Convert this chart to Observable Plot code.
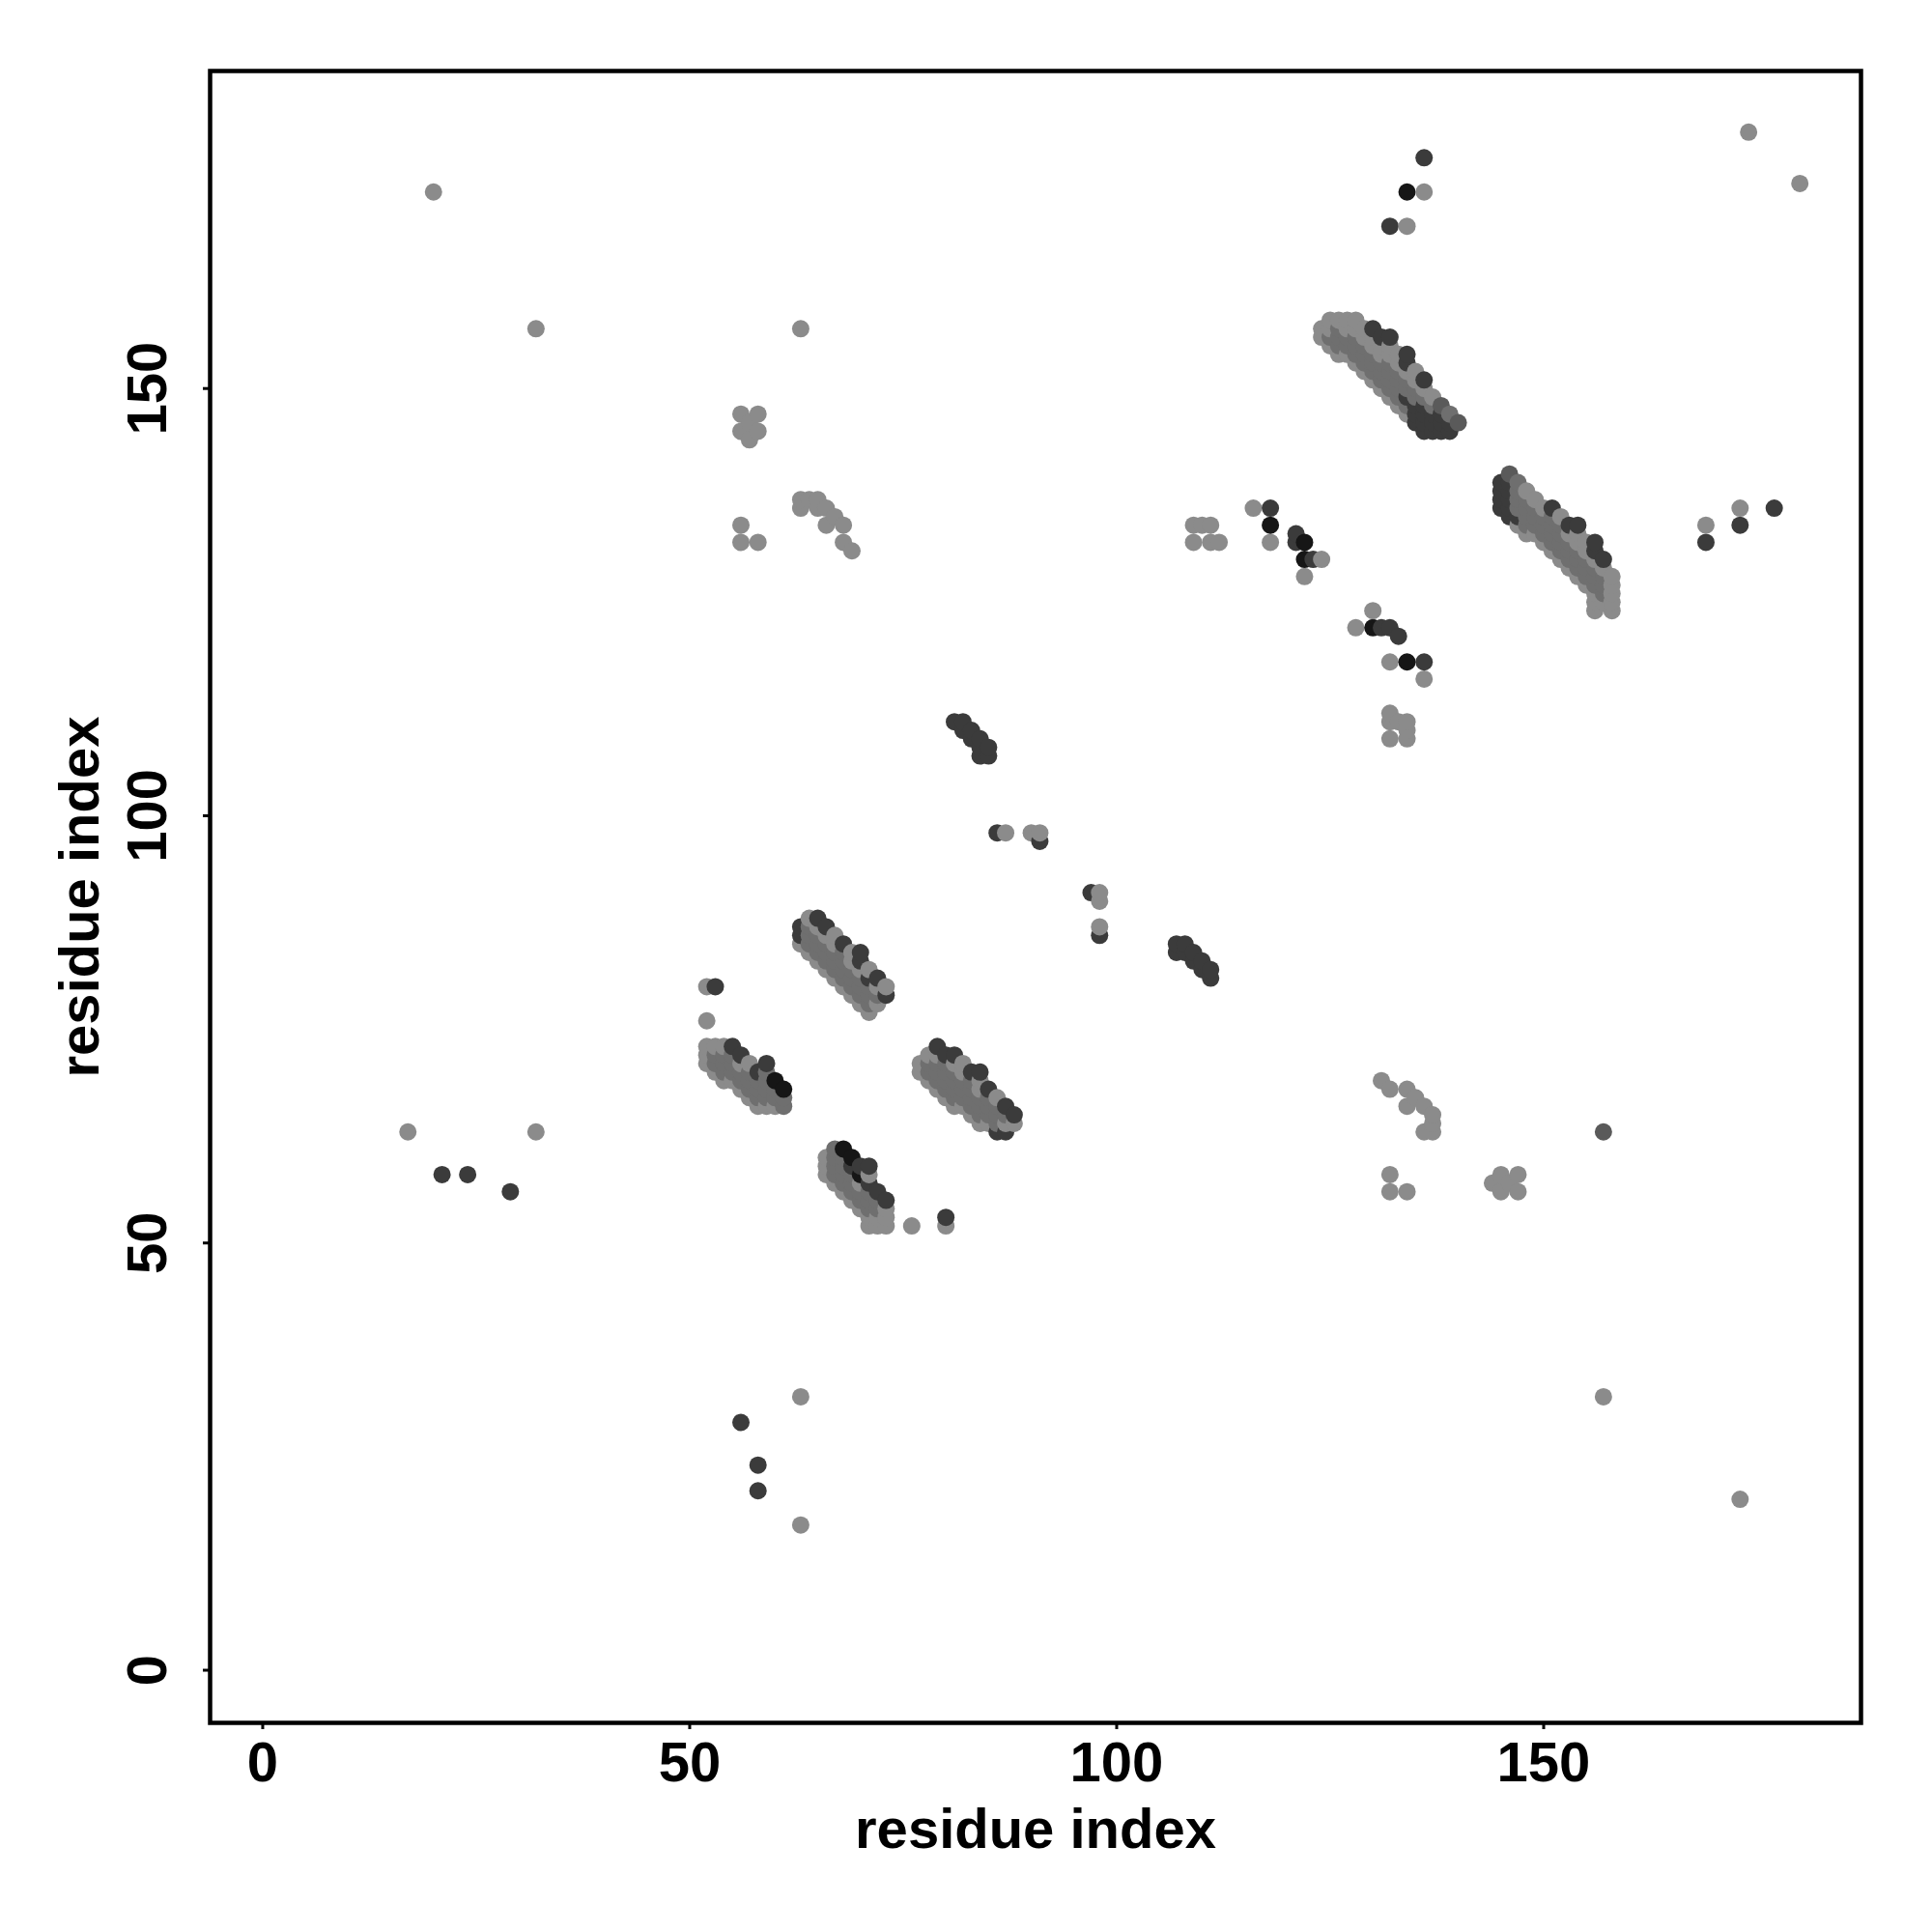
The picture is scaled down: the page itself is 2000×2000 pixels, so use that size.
<!DOCTYPE html>
<html><head><meta charset="utf-8">
<script src="https://cdn.jsdelivr.net/npm/d3@7"></script>
<script src="https://cdn.jsdelivr.net/npm/@observablehq/plot@0.6"></script>
<style>body{margin:0;background:#fff}</style>
</head><body><div id="chart"></div>
<script>
// residue index pairs [i, j] grouped by shade
const grayContacts = [
[20,173],[32,157],[63,157],[174,180],[180,174],[134,169],[136,173],[169,134],[173,136],[17,63],[32,63],[52,80],[52,76],[63,17],[63,32],[157,32],[173,20],[76,52],[80,52],[87,98],[90,98],[91,98],[98,91],[98,90],[98,87],
[56,147],[58,147],[57,146],[56,145],[58,145],[57,144],[56,134],[56,132],[58,132],[63,137],[64,137],[65,137],[63,136],[65,136],[66,136],[66,134],[67,135],[68,134],[68,132],[69,131],
[109,134],[110,134],[111,134],[109,132],[111,132],[112,132],[116,136],[118,132],[124,130],[122,128],
[128,122],[130,124],[132,118],[136,116],[132,112],[132,111],[133,111],[134,111],[134,110],[132,109],[134,109],
[131,69],[132,68],[134,68],[135,67],[134,66],[136,66],[137,65],[137,64],[136,63],[137,63],
[132,58],[132,56],[134,56],
[144,57],[145,58],[145,56],[146,57],[147,58],[147,56],
[63,85],[64,84],[64,88],[65,83],[65,87],[66,82],[66,86],[67,81],[67,85],[67,86],[68,80],[69,79],[69,83],[69,84],[70,78],[70,82],[71,77],[71,82],[72,78],[72,80],[73,80],
[52,71],[52,72],[52,73],[53,70],[53,73],[54,69],[54,73],[55,69],[56,68],[56,71],[57,67],[57,71],[58,66],[59,66],[60,66],
[77,70],[77,71],[78,69],[78,72],[79,68],[79,72],[80,67],[81,66],[81,71],[82,66],[82,70],[82,71],[83,65],[84,64],[84,68],[84,69],[85,64],[86,67],[87,64],[88,64],
[66,58],[66,59],[66,60],[67,57],[68,56],[69,55],[70,54],[70,57],[71,52],[71,53],[71,58],[72,52],[72,53],[73,52],[73,53],[73,54],
[124,156],[124,157],[125,155],[125,157],[125,158],[126,154],[126,158],[127,154],[127,157],[127,158],[128,153],[128,157],[128,158],[129,152],[129,156],[129,157],[130,151],[130,155],[130,156],[131,150],[131,154],[131,155],[132,149],[132,154],[132,155],[133,148],[133,153],[133,154],[134,147],[134,152],[135,151],[135,152],[136,150],[137,149],
[147,134],[148,133],[148,138],[149,133],[149,137],[150,132],[150,136],[151,131],[152,130],[152,135],[153,129],[153,133],[154,128],[154,132],[154,133],[155,127],[155,131],[155,132],[156,124],[156,125],[156,126],[156,130],[157,125],[157,129],[158,124],[158,125],[158,126],[158,127],[158,128]
];
const midContacts = [
[64,85],[64,86],[64,87],[65,84],[65,85],[65,86],[66,83],[66,84],[66,85],[67,82],[67,83],[67,84],[68,81],[68,82],[68,83],[68,84],[69,80],[69,81],[69,82],[70,79],[70,80],[70,81],[71,78],[71,79],[71,80],[72,79],
[53,71],[53,72],[54,70],[54,71],[54,72],[55,70],[55,71],[55,72],[56,69],[56,70],[57,68],[57,69],[57,70],[58,67],[58,68],[58,69],[59,67],[59,68],[59,69],[59,70],[60,67],[60,68],[61,66],[61,67],
[78,70],[78,71],[79,69],[79,70],[79,71],[80,68],[80,69],[80,70],[80,71],[81,67],[81,68],[81,69],[81,70],[82,67],[82,68],[82,69],[83,66],[83,67],[83,68],[83,69],[84,65],[84,66],[84,67],[85,65],[85,66],[85,67],[86,64],[86,65],[86,66],[87,65],
[67,58],[67,59],[67,60],[67,61],[68,57],[68,58],[68,59],[68,60],[69,56],[69,57],[69,58],[70,55],[70,56],[71,54],[71,55],[71,56],[72,54],[72,55],
[125,156],[126,155],[126,156],[126,157],[127,155],[127,156],[128,154],[128,155],[128,156],[129,153],[129,154],[129,155],[130,152],[130,153],[130,154],[131,151],[131,152],[131,153],[132,150],[132,151],[132,152],[132,153],[133,149],[133,150],[133,151],[133,152],[134,148],[134,150],[134,151],[135,149],[135,150],[136,149],[137,148],[139,147],
[147,136],[147,137],[147,138],[147,139],[148,134],[148,135],[148,136],[148,137],[149,134],[149,135],[149,136],[150,133],[150,134],[150,135],[151,132],[151,133],[151,134],[151,135],[152,131],[152,132],[152,133],[152,134],[153,130],[153,131],[153,132],[154,129],[154,130],[154,131],[155,128],[155,129],[155,130],[156,127],[156,128],[156,129],[157,126],[157,127],[157,128]
];
const midDarkContacts = [[146,140],[138,148],[140,146],[157,63]];
const darkContacts = [
[132,169],[136,177],[169,132],[173,134],[177,136],[21,58],[24,58],[29,56],[53,80],[56,29],[58,24],[58,21],[80,53],[86,98],[91,97],[97,91],[98,86],
[81,111],[82,111],[82,110],[83,110],[83,109],[84,109],[84,108],[85,108],[85,107],[84,107],
[107,85],[108,85],[107,84],[108,84],[109,84],[109,83],[110,83],[110,82],[111,82],[111,81],
[118,136],[121,133],[121,132],[123,130],
[131,122],[132,122],[133,121],[136,118],
[63,86],[63,87],[65,88],[66,87],[68,85],[70,83],[70,84],[71,81],[72,81],[73,79],
[55,73],[56,72],[58,70],[59,71],
[79,73],[80,72],[81,72],[83,70],[84,70],[85,68],[86,63],[87,63],[87,66],[88,65],
[69,59],[70,59],[71,57],[71,59],[72,56],[73,55],
[130,157],[131,156],[132,156],[134,149],[134,153],[134,154],[135,146],[135,147],[135,148],[136,145],[136,146],[136,147],[136,148],[136,151],[137,145],[137,146],[137,147],[138,145],[138,146],[138,147],[139,145],[139,146],
[145,136],[145,137],[145,138],[145,139],[146,135],[146,136],[146,137],[146,138],[146,139],[147,135],[151,136],[153,134],[154,134],[156,131],[156,132],[157,130]
];
const blackContacts = [[134,173],[118,134],[122,132],[122,130],[130,122],[134,118],[60,69],[61,68],[68,61],[69,60],[70,58]];

const axisTicks = [0, 50, 100, 150];
const axisDomain = [-6.16, 187.16];
const shadeFill = {gray: "#8b8b8b", mid: "#6f6f6f", midDark: "#5a5a5a", dark: "#3b3b3b", black: "#161616"};

const contacts = [
  ...grayContacts.map(([i, j]) => ({i, j, shade: "gray"})),
  ...midContacts.map(([i, j]) => ({i, j, shade: "mid"})),
  ...midDarkContacts.map(([i, j]) => ({i, j, shade: "midDark"})),
  ...darkContacts.map(([i, j]) => ({i, j, shade: "dark"})),
  ...blackContacts.map(([i, j]) => ({i, j, shade: "black"}))
].sort((a, b) => a.i - b.i || a.j - b.j);

const font = "'Liberation Sans', Arial, Helvetica, sans-serif";
const chart = Plot.plot({
  width: 2000, height: 2000,
  marginLeft: 217, marginRight: 74, marginTop: 73, marginBottom: 217,
  style: {fontFamily: font, fontWeight: "bold", fontSize: "58px", color: "black", background: "white"},
  x: {domain: axisDomain, label: null},
  y: {domain: axisDomain, label: null},
  color: {type: "identity"},
  marks: [
    Plot.dot(contacts, {x: "i", y: "j", r: 9, fill: d => shadeFill[d.shade], stroke: null}),
    Plot.frame({stroke: "black", strokeWidth: 4.5}),
    Plot.axisX(axisTicks, {tickSize: 7, tickPadding: 12, strokeWidth: 3, fontSize: 58, fontWeight: "bold", label: null}),
    Plot.axisY(axisTicks, {tickSize: 7, strokeWidth: 3, tickFormat: () => "", label: null}),
    Plot.text(axisTicks, {y: d => d, text: d => String(d), frameAnchor: "left", dx: -64, rotate: -90, textAnchor: "middle", lineAnchor: "middle", fontSize: 58, fontWeight: "bold"}),
    Plot.text(["residue index"], {frameAnchor: "bottom", dy: 111, lineAnchor: "middle", textAnchor: "middle", fontSize: 58, fontWeight: "bold"}),
    Plot.text(["residue index"], {frameAnchor: "left", dx: -134, rotate: -90, lineAnchor: "middle", textAnchor: "middle", fontSize: 58, fontWeight: "bold"})
  ]
});
document.getElementById("chart").appendChild(chart);
</script>
</body></html>
